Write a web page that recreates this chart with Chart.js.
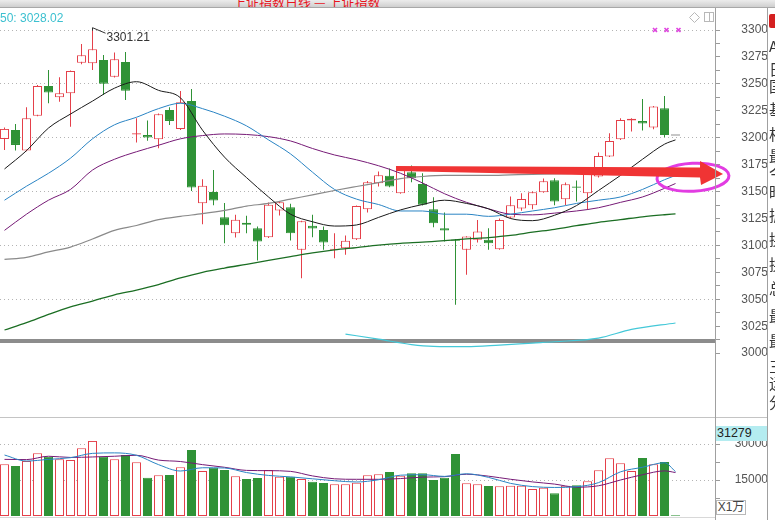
<!DOCTYPE html>
<html><head><meta charset="utf-8">
<script src="https://cdn.jsdelivr.net/npm/chart.js@4.4.1/dist/chart.umd.min.js"></script>
<style>
html,body{margin:0;padding:0;background:#fff;overflow:hidden}
#wrap{position:relative;width:775px;height:520px;overflow:hidden;background:#fff;font-family:"Liberation Sans",Arial,sans-serif}
canvas{position:absolute;left:0}
#pc{top:0}
#vc{top:405px}
#hdr{position:absolute;left:0;top:0;width:775px;height:7px;background:linear-gradient(#ececec,#cfcfcf);border-bottom:1px solid #a8a8a8;overflow:hidden;z-index:3}
#hdr span{position:absolute;left:233px;top:-8px;font-size:13px;color:#e8141e;white-space:nowrap;font-family:"Noto Sans CJK SC",sans-serif}
.vl{position:absolute;top:8px;width:1px;height:512px;background:#a0a0a0;z-index:2}
#hl{position:absolute;left:0;top:417px;width:767px;height:1px;background:#c4c4c4}
#bl{position:absolute;left:0;top:517px;width:715px;height:1px;background:#d8d8d8}
#side{position:absolute;left:768px;top:8px;width:7px;height:512px;overflow:hidden;z-index:2}
#side span{position:absolute;left:1px;font-size:15px;line-height:15px;color:#333;font-family:"Noto Sans CJK SC",sans-serif}
#side .ic{left:1px;top:6px;width:10px;height:14px;background:#d42020;border-radius:2px}
#vmax{position:absolute;left:716px;top:426px;width:50px;height:15px;background:#b4ecf0;color:#222;font-size:12.5px;line-height:15px;padding-left:1px;z-index:2}
#unit{position:absolute;left:716px;top:500px;width:28px;height:13px;border:1px solid #b8b8b8;color:#444;font-size:12px;line-height:13px;text-align:center;background:#fff;z-index:2;font-family:"Liberation Sans","Noto Sans CJK SC",sans-serif}
</style></head>
<body>
<div id="wrap">
  <canvas id="pc" width="768" height="370"></canvas>
  <canvas id="vc" width="768" height="125"></canvas>
  <div id="hdr"><span>上证指数日线 — 上证指数</span></div>
  <div class="vl" style="left:715px"></div>
  <div class="vl" style="left:767px"></div>
  <div id="hl"></div>
  <div id="bl"></div>
  <div id="side">
    <div class="ic" style="position:absolute"></div>
    <span style="top:30px">A</span><span style="top:53px">日</span><span style="top:70px">国</span>
    <span style="top:93px">基</span><span style="top:118px">相</span><span style="top:140px">最</span>
    <span style="top:157px">今</span><span style="top:176px">昨</span><span style="top:199px">振</span>
    <span style="top:223px">换</span><span style="top:248px">换</span><span style="top:272px">总</span>
    <span style="top:300px">最</span><span style="top:325px">最</span><span style="top:350px">三</span>
    <span style="top:367px">运</span><span style="top:386px">分</span>
  </div>
  <div id="vmax"></div>
  <div id="unit">X1万</div>
</div>
<script>
// ---- data ----
const days = Array.from({length: 62}, (_, i) => i);   // candle index (trading days)
const opens  = [3198.9,3207.2,3188.1,3220.5,3248.1,3237.5,3241.2,3269.7,3269.1,3272.2,3256.7,3270.3,3202.9,3202.6,3198.6,3225.8,3208.2,3234.1,3139.2,3149.7,3126.2,3111.4,3121.0,3116.0,3107.7,3132.4,3135.5,3095.9,3118.2,3114.4,3095.9,3097.5,3105.8,3133.6,3157.8,3164.6,3148.5,3168.0,3157.1,3133.6,3116.0,3105.6,3095.9,3105.2,3105.2,3096.5,3125.9,3134.3,3137.4,3149.4,3160.5,3142.9,3154.7,3148.5,3163.9,3182.5,3198.6,3215.9,3215.6,3209.4,3227.3,3202.6];
const highs  = [3209.4,3212.8,3228.3,3249.0,3262.9,3256.1,3262.5,3287.0,3301.21,3276.8,3279.0,3279.6,3218.1,3215.9,3222.5,3228.3,3243.4,3245.3,3161.5,3170.1,3139.5,3128.4,3127.5,3117.6,3139.8,3141.0,3138.6,3123.0,3128.4,3117.6,3111.4,3109.2,3137.0,3159.9,3168.6,3171.4,3172.5,3174.2,3167.0,3144.8,3130.5,3106.0,3108.5,3123.7,3116.0,3125.0,3145.4,3148.5,3150.0,3162.1,3162.4,3158.4,3160.2,3168.0,3186.2,3204.1,3218.1,3218.0,3236.0,3229.5,3238.8,3202.6];
const lows   = [3188.7,3188.1,3187.5,3220.0,3232.0,3233.5,3210.3,3268.2,3262.9,3239.7,3256.0,3235.1,3195.5,3197.3,3190.2,3211.9,3207.2,3150.6,3119.7,3137.4,3102.1,3107.4,3111.4,3086.0,3107.0,3127.8,3104.6,3069.6,3107.7,3095.9,3088.2,3091.3,3105.0,3130.5,3154.7,3154.0,3148.0,3158.7,3137.0,3117.0,3103.6,3044.9,3072.7,3102.7,3095.9,3096.0,3125.0,3132.1,3133.6,3149.0,3137.4,3137.4,3140.8,3133.0,3163.0,3182.0,3198.0,3205.7,3206.6,3207.9,3200.4,3202.6];
const closes = [3208.2,3193.3,3218.1,3248.1,3241.9,3241.2,3262.0,3276.5,3282.1,3250.2,3272.8,3243.7,3204.1,3200.1,3221.8,3215.6,3232.9,3153.7,3155.3,3141.7,3118.8,3123.8,3119.1,3103.6,3137.7,3140.1,3111.4,3122.5,3115.7,3102.7,3097.0,3104.3,3136.7,3158.7,3165.2,3154.7,3171.7,3162.4,3137.7,3120.7,3113.8,3104.3,3108.3,3112.9,3102.1,3123.7,3137.4,3143.0,3149.4,3159.6,3140.8,3156.8,3153.6,3167.0,3183.1,3197.0,3216.5,3217.7,3213.1,3228.9,3202.6,3202.6];
const volumes = [21540,20830,22920,26110,24720,23610,23330,28190,31279,24720,23610,25420,22360,15970,16940,17080,20280,27500,18750,20140,19170,16530,15420,15830,19170,16390,16390,15420,14310,13750,13190,13190,13890,16940,17360,18330,16810,17780,17780,15000,15970,25830,13610,13190,12500,12360,12640,12640,11250,11810,9440,12640,12780,14440,19030,24030,21940,18750,24170,21530,22500,300];

// moving averages read at every second candle (plus the last one)
const maDays = [0,2,4,6,8,10,12,14,16,18,20,22,24,26,28,30,32,34,36,38,40,42,44,46,48,50,52,54,56,58,60,61];
const ma5   = [3171,3188,3209,3222,3234,3246,3252,3244,3237,3207,3182,3163,3145,3129,3122,3118,3119,3126,3133,3138,3142,3139,3134,3125,3123,3128,3137,3151,3165,3180,3194,3198];
const ma10  = [3142,3155,3167,3181,3199,3212,3219,3227,3232,3227,3220,3211,3198,3185,3168,3152,3143,3138,3132,3132,3129,3129,3127,3129,3132,3135,3139,3142,3145,3152,3161,3165];
const ma20  = [3114,3129,3142,3152,3170,3180,3187,3193,3199,3202,3203.5,3203,3201,3197,3190,3184,3179.5,3174,3167,3158,3148,3140,3134,3129,3128.4,3130,3132,3135,3140,3145,3153,3157.5];
const ma60  = [3087,3089,3094,3098.5,3106,3114,3118.5,3124,3127,3129.5,3132.5,3136.5,3139,3143,3147,3151,3154.7,3158.3,3162,3164,3165,3165,3165,3165.5,3166,3166.4,3167,3167.5,3168,3168.5,3169,3169.5];
const ma120 = [3021.5,3028.3,3036,3043,3048.4,3054.2,3058.6,3063.7,3069.8,3075,3079,3082.5,3086.1,3089.6,3093,3095.8,3098,3100.3,3102,3103,3104.4,3106,3107.3,3109.3,3112.3,3115,3118.3,3121.5,3124,3126.6,3128.5,3129.3];
const ma250Days = [31,34,37,39,42,45,48,50,54,57,61];
const ma250 = [3017.7,3013,3008,3006.3,3006,3007.5,3009.4,3010.6,3014,3022,3028.02];
const vma5  = [25400,22900,23600,24300,26100,26300,25300,21400,18750,20100,20000,18100,16900,16300,15500,14700,14170,15100,17000,17200,16500,17600,16100,13600,12250,11900,12200,13900,18400,20300,22200,18500];
const vma10 = [23600,23500,24900,24400,24600,24900,25300,23300,22700,21400,20300,19000,18890,18600,16700,15500,15290,15290,15600,16200,16390,17400,16600,15300,14200,13300,12000,12600,15000,17200,18800,18100];

const priceTicks = [];
for (let v = 3000; v <= 3300; v += 12.5) priceTicks.push(v);
const priceLabelStep = 25, priceGridStep = 50;
const volTicks = [7500, 15000, 22500, 30000];
const volLabels = [15000, 30000];

// annotation drawn on the chart (in data units)
const arrowShape = [[35.59,3173.75],[63.23,3172.35],[63.23,3178.4],[65.32,3166.3],[63.32,3156.1],[63.23,3163.07],[35.59,3169.1]];
const ringCenter = [62.59, 3163.3];
const sepLevel = 3011.4;

// ---- styles ----
const RED = '#e4404a', GREEN = '#2f9236', FLAT = '#222';
const FONT = '"Liberation Sans", Arial, sans-serif';
const dir = days.map(i => closes[i] > opens[i] ? 1 : (closes[i] < opens[i] ? -1 : 0));
const candleEdge = dir.map(d => d > 0 ? RED : (d < 0 ? GREEN : FLAT));
const candleFill = dir.map(d => d > 0 ? '#ffffff' : (d < 0 ? GREEN : FLAT));
const volEdge = dir.map(d => d > 0 ? RED : GREEN);
const volFill = dir.map(d => d > 0 ? '#ffffff' : GREEN);

const xScale = {type: 'linear', min: -4.5/11, max: 65 - 4.5/11, display: false, offset: false};

function lineDs(xs, ys, color, w) {
  return {type: 'line', data: xs.map((x, k) => ({x, y: ys[k]})), borderColor: color, borderWidth: w || 1,
          pointRadius: 0, fill: false, cubicInterpolationMode: 'monotone', order: 0};
}
function fitAxis(s) { s.width = 53; s.paddingTop = 0; s.paddingBottom = 0; }

document.getElementById('vmax').textContent = Math.max(...volumes);

const annot = {
  id: 'annot',
  beforeDatasetsDraw(chart) {
    const {ctx, chartArea: a, scales: {y}} = chart;
    const yy = Math.round(y.getPixelForValue(sepLevel));
    ctx.save(); ctx.fillStyle = '#8c8c8c'; ctx.fillRect(a.left, yy - 2, a.right - a.left, 4); ctx.restore();
  },
  afterDatasetsDraw(chart) {
    const {ctx, chartArea: a, scales: {x, y}} = chart;
    ctx.save();
    ctx.font = '12px ' + FONT; ctx.fillStyle = '#3cc0d0'; ctx.textBaseline = 'alphabetic';
    ctx.fillText('50: ' + ma250[ma250.length - 1].toFixed(2), 0, 21.5);
    let hi = 0; highs.forEach((h, i) => { if (h > highs[hi]) hi = i; });
    const hx = Math.round(x.getPixelForValue(hi)) + 0.5, hy = y.getPixelForValue(highs[hi]);
    ctx.strokeStyle = '#333'; ctx.lineWidth = 1;
    ctx.beginPath(); ctx.moveTo(hx, hy + 2); ctx.lineTo(hx, hy - 1); ctx.lineTo(hx + 13, hy + 4.5); ctx.stroke();
    ctx.fillStyle = '#333'; ctx.fillText(highs[hi].toFixed(2), hx + 14, hy + 12);
    ctx.strokeStyle = '#e040e0'; ctx.lineWidth = 1.6;
    [a.right - 60, a.right - 48.5, a.right - 36.5].forEach(cx => {
      const cy = 30; ctx.beginPath();
      ctx.moveTo(cx - 2, cy - 2); ctx.lineTo(cx + 2, cy + 2); ctx.moveTo(cx + 2, cy - 2); ctx.lineTo(cx - 2, cy + 2); ctx.stroke();
    });
    ctx.strokeStyle = '#b8b8b8'; ctx.lineWidth = 1;
    ctx.beginPath(); const dx = a.right - 20.5, dy = 17.5;
    ctx.moveTo(dx, dy - 5); ctx.lineTo(dx + 5, dy); ctx.lineTo(dx, dy + 5); ctx.lineTo(dx - 5, dy); ctx.closePath(); ctx.stroke();
    ctx.strokeRect(a.right - 10.5, 12.5, 9, 9);
    ctx.beginPath(); ctx.moveTo(a.right - 5.5, 12.5); ctx.lineTo(a.right - 5.5, 21.5); ctx.stroke();
    const cx = x.getPixelForValue(ringCenter[0]), cy = y.getPixelForValue(ringCenter[1]);
    ctx.strokeStyle = '#e23ce2'; ctx.lineWidth = 3;
    ctx.beginPath(); ctx.ellipse(cx, cy, 36, 14, -0.05, 0, Math.PI * 2); ctx.stroke();
    ctx.fillStyle = '#f03434';
    ctx.beginPath();
    arrowShape.forEach((p, k) => {
      const px = x.getPixelForValue(p[0]), py = y.getPixelForValue(p[1]);
      if (k === 0) ctx.moveTo(px, py); else ctx.lineTo(px, py);
    });
    ctx.closePath(); ctx.fill();
    ctx.restore();
  }
};

new Chart(document.getElementById('pc'), {
  type: 'bar',
  data: {
    datasets: [
      lineDs(maDays, ma5, '#1a1a1a'),
      lineDs(maDays, ma10, '#2a84c4'),
      lineDs(maDays, ma20, '#761a76'),
      lineDs(maDays, ma60, '#8a8a8a', 1.2),
      lineDs(maDays, ma120, '#1b6e23', 1.3),
      lineDs(ma250Days, ma250, '#44c8d8', 1.2),
      {type: 'bar', data: days.map(i => ({x: i, y: [lows[i], highs[i]]})), backgroundColor: candleEdge,
       borderWidth: 0, barThickness: 1, grouped: false, inflateAmount: 0, order: 3},
      {type: 'bar', data: days.map(i => ({x: i, y: dir[i] === 0 ? [opens[i] - 0.45, closes[i] + 0.45] : [opens[i], closes[i]]})),
       backgroundColor: candleFill, borderColor: candleEdge, borderWidth: 1, borderSkipped: false,
       barThickness: 9, grouped: false, inflateAmount: 0, order: 2}
    ]
  },
  options: {
    responsive: false, animation: false, events: [],
    layout: {padding: {top: 10, bottom: 14, left: 0, right: 0}},
    plugins: {legend: {display: false}, tooltip: {enabled: false}},
    scales: {
      x: xScale,
      y: {
        position: 'right', min: 2997.36, max: 3318.57,
        afterBuildTicks: s => { s.ticks = priceTicks.map(v => ({value: v})); },
        afterFit: fitAxis,
        ticks: {autoSkip: false, crossAlign: 'far', padding: 11, color: '#555', font: {family: FONT, size: 12},
                callback: v => (v % priceLabelStep === 0 ? String(v) : '')},
        grid: {color: c => (c.tick && c.tick.value % priceGridStep === 0 && c.tick.value > 3000) ? '#b4b4b4' : 'rgba(0,0,0,0)',
               tickColor: '#9a9a9a', tickLength: 5, lineWidth: 1},
        border: {display: false, dash: [1, 3]}
      }
    }
  },
  plugins: [annot]
});

new Chart(document.getElementById('vc'), {
  type: 'bar',
  data: {
    datasets: [
      lineDs(maDays, vma5, '#2a84c4'),
      lineDs(maDays, vma10, '#761a76'),
      {type: 'bar', data: days.map(i => ({x: i, y: volumes[i]})), backgroundColor: volFill, borderColor: volEdge,
       borderWidth: 1, borderSkipped: false, barThickness: 9, grouped: false, inflateAmount: 0, order: 2}
    ]
  },
  options: {
    responsive: false, animation: false, events: [],
    layout: {padding: {top: 12, bottom: 14, left: 0, right: 0}},
    plugins: {legend: {display: false}, tooltip: {enabled: false}},
    scales: {
      x: xScale,
      y: {
        position: 'right', min: 0, max: 41250,
        afterBuildTicks: s => { s.ticks = volTicks.map(v => ({value: v})); },
        afterFit: fitAxis,
        ticks: {autoSkip: false, crossAlign: 'far', padding: 5, color: '#555', font: {family: FONT, size: 12},
                callback: v => (volLabels.includes(v) ? String(v) : '')},
        grid: {color: c => (c.tick && volLabels.includes(c.tick.value)) ? '#b4b4b4' : 'rgba(0,0,0,0)',
               tickColor: '#9a9a9a', tickLength: 5, lineWidth: 1},
        border: {display: false, dash: [1, 3]}
      }
    }
  }
});
</script>
</body></html>
